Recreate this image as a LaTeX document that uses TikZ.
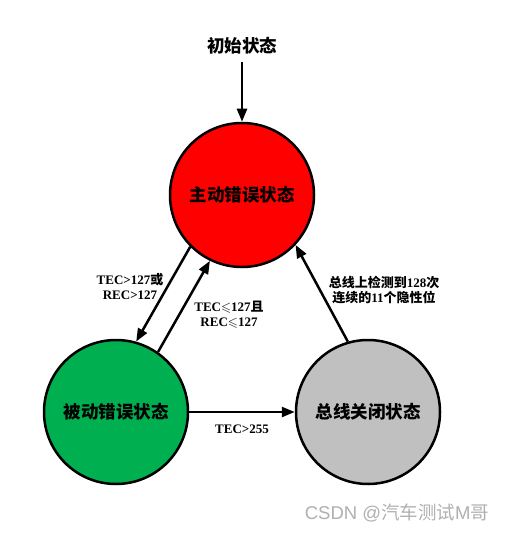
\documentclass[tikz,border=0pt]{standalone}
\usepackage{fontspec}
\usepackage{amssymb}
\usetikzlibrary{arrows.meta}
\setmainfont{Liberation Serif}
\newfontfamily\zhfont{Noto Sans CJK SC}
\newfontfamily\wmfont{Liberation Sans}
\newcommand{\zh}[1]{{\zhfont #1}}
\definecolor{passgreen}{HTML}{00B050}
\definecolor{offgray}{HTML}{C0C0C0}
\definecolor{wmgray}{HTML}{B0B0B0}
\begin{document}
\begin{tikzpicture}[x=1pt,y=-1pt,
  state/.style={circle,draw=black,line width=2.5pt,minimum size=144pt,inner sep=0pt,
    font=\fontsize{17.5}{20}\selectfont\zhfont\bfseries},
  arr/.style={line width=2.5pt,-{Triangle[length=13pt,width=10pt]}},
  lbl/.style={font=\fontsize{13}{15}\selectfont\bfseries,align=center,inner sep=0pt}]
\fill[white] (0,0) rectangle (508,534);
\useasboundingbox (0,0) rectangle (508,534);
\node[font=\fontsize{17.5}{20}\selectfont\zhfont\bfseries,inner sep=7pt] (init) at (242,46) {初始状态};
\node[state,fill=red] (active) at (242,195) {主动错误状态};
\node[state,fill=passgreen] (passive) at (116,412) {被动错误状态};
\node[state,fill=offgray] (busoff) at (368,412) {总线关闭状态};
\draw[arr] (init.south) -- (active.north);
\draw[arr] (active.225) -- (passive.74);
\draw[arr] (passive.55) -- (active.244);
\draw[arr] (busoff.106) -- (active.-43);
\draw[arr] (passive.east) -- (busoff.west);
\node[lbl] (l1) at (130,286) {TEC>127\zh{或}\\REC>127};
\node[lbl] (l2) at (229,315) {TEC$\leqslant$127\zh{且}\\REC$\leqslant$127};
\node[lbl] (l3) at (384,290) {\zh{总线上检测到}128\zh{次}\\\zh{连续的}11\zh{个隐性位}};
\node[lbl] (l4) at (242,429) {TEC>255};
\node[font=\fontsize{18.5}{20}\selectfont,text=wmgray] (wm) at (397,513) {\wmfont CSDN @\zh{汽车测试}M\zh{哥}};
\end{tikzpicture}
\end{document}
